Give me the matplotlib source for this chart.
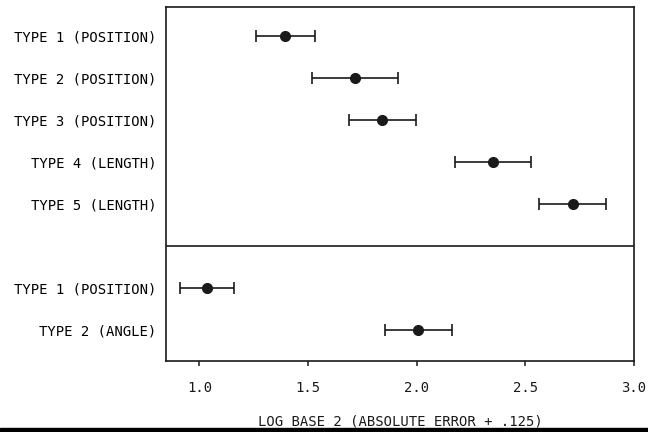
import matplotlib
matplotlib.use("Agg")
import matplotlib.pyplot as plt
from matplotlib.patches import Rectangle

# top group (separated from bottom group by a horizontal rule)
top_labels = ["TYPE 1 (POSITION)", "TYPE 2 (POSITION)", "TYPE 3 (POSITION)",
              "TYPE 4 (LENGTH)", "TYPE 5 (LENGTH)"]
top_mean = [1.395, 1.717, 1.841, 2.351, 2.718]
top_low = [1.258, 1.516, 1.688, 2.178, 2.565]
top_high = [1.531, 1.916, 1.996, 2.526, 2.873]

bot_labels = ["TYPE 1 (POSITION)", "TYPE 2 (ANGLE)"]
bot_mean = [1.034, 2.006]
bot_low = [0.910, 1.853]
bot_high = [1.159, 2.163]

xticks = [1.0, 1.5, 2.0, 2.5, 3.0]
xlabel = "LOG BASE 2 (ABSOLUTE ERROR + .125)"

FONT = "DejaVu Sans Mono"
INK = "#1a1a1a"

fig = plt.figure(figsize=(6.48, 4.32), dpi=100)
ax = fig.add_axes([166 / 648, 1 - 361 / 432, (634 - 166) / 648, (361 - 7) / 432])

# row positions: top group 0..4, gap slot 5 for the divider, bottom group 6..7
top_y = list(range(len(top_labels)))
bot_y = [len(top_labels) + 1 + i for i in range(len(bot_labels))]

for ys, m, lo, hi in [(top_y, top_mean, top_low, top_high),
                      (bot_y, bot_mean, bot_low, bot_high)]:
    xerr = [[a - b for a, b in zip(m, lo)], [c - a for a, c in zip(m, hi)]]
    ax.errorbar(m, ys, xerr=xerr, fmt="o", color=INK, ms=7, elinewidth=1.2,
                capsize=4.3, capthick=1.2)

ax.axhline(len(top_labels), color=INK, lw=1.2)

ax.set_xlim(0.846, 3.0)
ax.set_ylim(bot_y[-1] + 0.74, -0.69)
ax.set_yticks(top_y + bot_y)
ax.set_yticklabels(top_labels + bot_labels, family=FONT, fontsize=10)
ax.tick_params(axis="y", length=0, pad=7)
ax.set_xticks(xticks)
ax.set_xticklabels([f"{v:.1f}" for v in xticks], family=FONT, fontsize=10)
ax.tick_params(axis="x", direction="out", length=3.5, width=1.1, pad=11, colors=INK)
ax.set_xlabel(xlabel, family=FONT, fontsize=10, labelpad=14, color=INK)

for s in ax.spines.values():
    s.set_color(INK)
    s.set_linewidth(1.2)

# black strip along the bottom edge of the scan
fig.patches.append(Rectangle((0, 0), 1, 4 / 432, transform=fig.transFigure,
                             color="black", zorder=10))

fig.savefig("out.png", dpi=100)
